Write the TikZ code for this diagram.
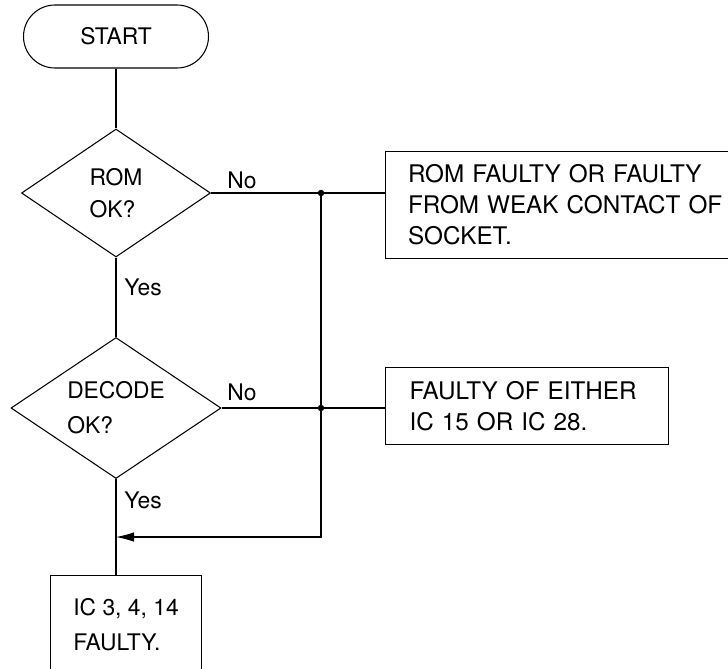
\documentclass[tikz,border=0pt]{standalone}
\usepackage{fontspec}
\setmainfont{TeX Gyre Heros}
\usetikzlibrary{arrows.meta,shapes.geometric,positioning}

\begin{document}
\begin{tikzpicture}[>={Latex[length=3.6mm,width=1.9mm]}, line width=0.6pt,
    font=\fontsize{13}{16}\selectfont,
    terminal/.style={draw, rounded corners=0.63cm, minimum width=3.7cm, minimum height=1.26cm},
    decision/.style={draw, diamond, aspect=1.8, inner sep=0pt, align=left, font=\fontsize{13}{20}\selectfont},
    box/.style={draw, align=left, anchor=north west, inner sep=0pt, font=\fontsize{13.8}{17.6}\selectfont},
    dot/.style={circle, fill, inner sep=0pt, minimum size=1.3mm}]
  \clip (0,0) rectangle (14.56,-13.36);
  \node[terminal] (start) at (2.32,-0.73) {START};
  \node[decision, minimum width=3.78cm, minimum height=2.56cm] (rom) at (2.32,-3.86) {ROM\\[-2pt]OK?};
  \node[decision, minimum width=4.2cm, minimum height=2.82cm] (decode) at (2.32,-8.16) {DECODE\\OK?};
  \node[box, minimum width=7.3cm, minimum height=2.14cm, text width=6.4cm] (rombox) at (7.7,-3.02)
    {ROM FAULTY OR FAULTY\\FROM WEAK CONTACT OF\\SOCKET.};
  \node[box, minimum width=5.66cm, minimum height=1.54cm, text width=4.7cm] (eitherbox) at (7.7,-7.34)
    {FAULTY OF EITHER\\IC 15 OR IC 28.};
  \node[box, minimum width=3.02cm, minimum height=1.98cm, font=\fontsize{13}{20}\selectfont] (faulty) at (1.0,-11.5)
    {IC 3, 4, 14\\FAULTY.};
  \node (no1) at (4.84,-3.6) {No};
  \node (no2) at (4.84,-7.84) {No};
  \node (yes1) at (2.86,-5.74) {Yes};
  \node (yes2) at (2.86,-10.0) {Yes};
  \node[dot] (dot1) at (6.42,-3.86) {};
  \node[dot] (dot2) at (6.42,-8.16) {};
  \coordinate (merge) at (2.32,-10.74);
  \draw (start) -- (rom);
  \draw (rom) -- (decode);
  \draw (decode.south) -- (decode.south |- faulty.north);
  \draw (rom.east) -- (dot1.center) -- (dot1 -| rombox.west);
  \draw (decode.east) -- (dot2.center) -- (dot2 -| eitherbox.west);
  \draw[->] (dot1.center) |- (merge);
\end{tikzpicture}
\end{document}
